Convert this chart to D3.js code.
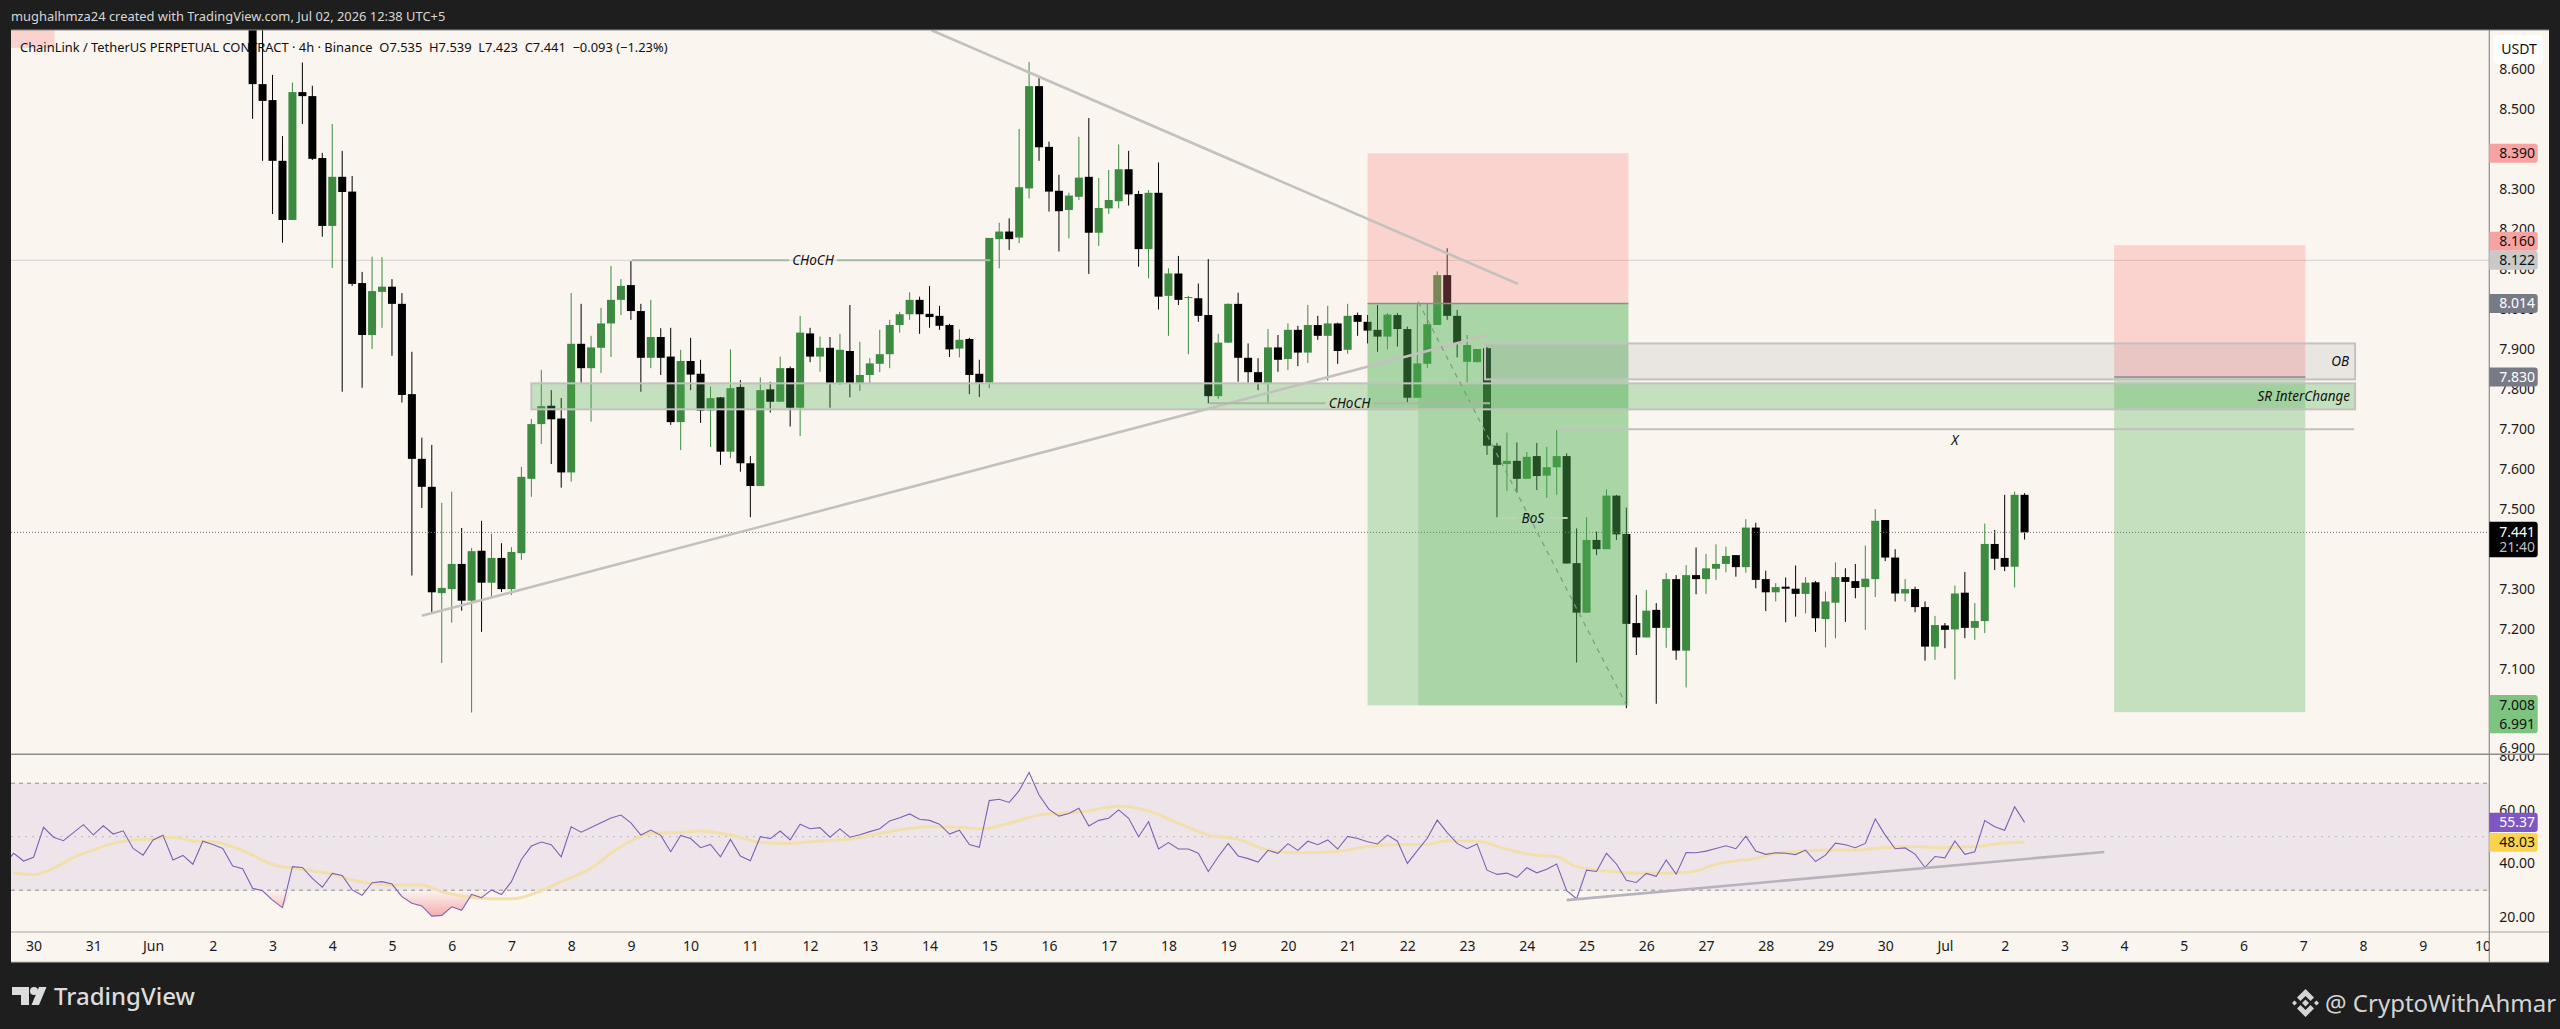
<!DOCTYPE html>
<html>
<head>
<meta charset="utf-8">
<script src="https://cdn.jsdelivr.net/npm/d3@7"></script>
<style>
    html, body { margin: 0; padding: 0; background: #1e1e1e; }
    svg { display: block; }
    text { font-family: "Noto Sans", sans-serif; }
</style>
</head>
<body>
<div id="chart"></div>
<script>
// 4h candles, first one is Jun 2 16:00, 6 bars per day
const opens = [8.824,8.563,8.523,8.371,8.223,8.543,8.533,8.378,8.208,8.331,
    8.294,8.065,7.935,8.043,8.056,8.013,7.787,7.625,7.555,7.289,
    7.299,7.362,7.270,7.395,7.315,7.377,7.299,7.389,7.575,7.712,
    7.758,7.726,7.591,7.913,7.852,7.903,7.964,8.023,8.060,7.995,
    7.878,7.930,7.881,7.717,7.870,7.838,7.746,7.779,7.643,7.805,
    7.614,7.557,7.799,7.768,7.852,7.753,7.939,7.881,7.903,7.814,
    7.895,7.814,7.835,7.863,7.887,7.960,7.987,8.023,7.988,7.983,
    7.960,7.901,7.925,7.838,7.816,8.175,8.194,8.179,8.302,8.558,
    8.406,8.296,8.248,8.281,8.331,8.191,8.252,8.270,8.350,8.288,
    8.150,8.291,8.033,8.089,8.028,8.027,7.985,7.782,7.916,8.013,
    7.878,7.842,7.815,7.904,7.875,7.948,7.891,7.960,7.933,7.964,
    7.898,7.985,7.968,7.948,7.931,7.985,7.950,7.778,7.863,7.960,
    8.085,7.983,7.868,7.867,7.902,7.658,7.612,7.620,7.575,7.632,
    7.583,7.604,7.632,7.364,7.240,7.422,7.399,7.533,7.437,7.214,
    7.178,7.247,7.202,7.324,7.145,7.334,7.324,7.350,7.362,7.384,
    7.354,7.453,7.324,7.291,7.305,7.300,7.287,7.316,7.224,7.265,
    7.329,7.319,7.304,7.324,7.472,7.378,7.288,7.299,7.254,7.155,
    7.208,7.198,7.290,7.202,7.219,7.412,7.377,7.355,7.535];
const highs = [8.87,8.724,8.586,8.433,8.567,8.617,8.559,8.391,8.463,8.396,
    8.333,8.093,8.131,8.130,8.075,8.040,7.893,7.678,7.660,7.515,
    7.543,7.452,7.402,7.470,7.437,7.414,7.404,7.605,7.725,7.848,
    7.797,7.777,8.040,8.013,7.933,8.003,8.108,8.075,8.120,8.013,
    8.023,7.952,7.953,7.898,7.928,7.873,7.806,7.780,7.899,7.822,
    7.632,7.829,7.818,7.881,7.856,7.983,7.953,7.931,7.930,7.938,
    8.010,7.918,7.877,7.948,7.973,7.993,8.042,8.031,8.058,8.008,
    7.963,7.949,7.928,7.873,8.178,8.216,8.227,8.451,8.618,8.578,
    8.419,8.336,8.291,8.431,8.478,8.328,8.348,8.412,8.396,8.296,
    8.298,8.367,8.102,8.133,8.033,8.064,8.125,7.938,8.014,8.041,
    7.914,7.877,7.950,7.935,7.964,7.958,8.010,7.983,8.008,7.966,
    8.013,7.991,7.985,8.010,7.990,7.990,7.956,8.014,8.013,8.094,
    8.152,7.998,7.935,7.900,7.905,7.665,7.691,7.666,7.642,7.665,
    7.655,7.697,7.639,7.451,7.479,7.443,7.549,7.535,7.503,7.284,
    7.297,7.264,7.339,7.334,7.359,7.403,7.387,7.411,7.405,7.384,
    7.474,7.465,7.345,7.314,7.328,7.358,7.329,7.319,7.293,7.366,
    7.351,7.362,7.408,7.499,7.472,7.399,7.324,7.305,7.268,7.232,
    7.214,7.308,7.342,7.264,7.463,7.447,7.535,7.543,7.539];
const lows = [8.476,8.371,8.238,8.166,8.223,8.463,8.373,8.181,8.103,7.793,
    8.058,7.803,7.900,7.953,7.883,7.766,7.333,7.502,7.242,7.114,
    7.215,7.245,6.990,7.192,7.280,7.292,7.284,7.372,7.530,7.662,
    7.612,7.553,7.568,7.816,7.718,7.840,7.880,7.985,7.973,7.793,
    7.852,7.835,7.710,7.647,7.797,7.715,7.655,7.610,7.627,7.593,
    7.479,7.557,7.741,7.768,7.706,7.682,7.867,7.843,7.753,7.810,
    7.779,7.795,7.814,7.842,7.852,7.941,7.973,7.938,7.953,7.948,
    7.880,7.879,7.787,7.780,7.802,8.102,8.148,8.165,8.277,8.371,
    8.244,8.144,8.177,8.273,8.088,8.158,8.238,8.252,8.259,8.106,
    8.077,7.999,7.933,8.010,7.887,7.968,7.764,7.775,7.915,7.818,
    7.816,7.797,7.766,7.843,7.847,7.857,7.865,7.923,7.821,7.863,
    7.888,7.933,7.914,7.893,7.899,7.906,7.766,7.778,7.853,7.960,
    7.973,7.879,7.814,7.867,7.635,7.479,7.545,7.541,7.575,7.547,
    7.527,7.535,7.363,7.115,7.240,7.384,7.399,7.422,7.001,7.134,
    7.178,7.012,7.152,7.122,7.053,7.286,7.287,7.322,7.341,7.330,
    7.340,7.301,7.244,7.268,7.216,7.230,7.238,7.192,7.153,7.176,
    7.217,7.276,7.197,7.279,7.369,7.268,7.268,7.241,7.120,7.122,
    7.151,7.073,7.176,7.172,7.189,7.347,7.344,7.303,7.423];
const closes = [8.563,8.521,8.371,8.223,8.543,8.533,8.376,8.208,8.331,8.293,
    8.063,7.935,8.045,8.056,8.013,7.785,7.625,7.555,7.291,7.302,
    7.362,7.270,7.394,7.315,7.377,7.299,7.392,7.580,7.712,7.757,
    7.724,7.591,7.913,7.852,7.904,7.964,8.023,8.058,7.995,7.878,
    7.930,7.878,7.717,7.870,7.836,7.746,7.777,7.643,7.802,7.614,
    7.557,7.797,7.768,7.852,7.753,7.941,7.881,7.903,7.814,7.898,
    7.814,7.835,7.864,7.887,7.960,7.987,8.023,7.987,7.980,7.958,
    7.899,7.923,7.835,7.816,8.178,8.194,8.175,8.305,8.558,8.405,
    8.294,8.245,8.284,8.329,8.191,8.253,8.273,8.350,8.287,8.150,
    8.291,8.031,8.089,8.023,8.030,7.983,7.782,7.916,8.013,7.878,
    7.842,7.816,7.904,7.873,7.948,7.891,7.960,7.933,7.964,7.895,
    7.983,7.968,7.946,7.931,7.986,7.950,7.778,7.864,7.962,8.085,
    7.983,7.914,7.910,7.900,7.658,7.610,7.620,7.575,7.630,7.582,
    7.604,7.632,7.363,7.240,7.422,7.399,7.533,7.436,7.212,7.178,
    7.245,7.202,7.324,7.145,7.334,7.324,7.351,7.362,7.382,7.354,
    7.453,7.322,7.291,7.304,7.300,7.287,7.315,7.226,7.268,7.329,
    7.317,7.302,7.325,7.470,7.378,7.288,7.299,7.254,7.155,7.209,
    7.197,7.288,7.202,7.219,7.412,7.375,7.355,7.535,7.441];

// RSI starts 25 bars before the first candle
const rsiFirstBar = -25;
const rsiValues = [39.4,43.8,40.9,42.3,53.5,49.8,48.5,51.5,54.5,50.7,54.1,51.0,52.2,45.6,43.1,48.8,50.5,41.3,43.0,39.7,
    48.3,47.1,45.6,39.0,38.0,30.7,29.8,26.3,23.5,38.8,38.5,34.4,31.1,36.3,35.5,30.1,28.1,32.8,33.2,32.3,
    27.6,25.1,24.1,20.3,20.6,23.8,22.5,28.4,27.2,30.1,28.4,33.2,41.5,46.5,48.0,47.0,42.5,53.7,51.7,53.4,
    55.2,57.0,58.1,55.2,50.6,52.5,50.5,44.4,50.5,49.3,45.9,47.1,42.5,49.0,42.8,41.0,50.0,49.3,52.1,48.8,
    54.7,53.0,53.4,49.8,52.9,49.8,50.7,51.9,53.0,55.9,57.1,58.5,56.5,56.1,54.7,51.0,52.4,47.1,46.0,63.5,
    64.0,62.8,67.2,74.0,65.6,60.2,57.7,58.7,60.6,54.0,56.1,56.9,60.0,56.9,50.0,55.6,45.4,47.8,45.4,45.4,
    43.8,37.0,42.5,47.5,42.8,41.8,40.5,44.9,43.8,47.4,44.9,48.3,47.0,48.8,45.4,50.1,49.3,48.1,47.3,50.6,
    48.3,40.0,44.8,49.4,56.2,51.5,47.5,45.5,47.3,37.5,35.9,36.4,34.8,38.4,36.5,37.8,39.8,29.8,26.8,37.5,
    37.0,43.8,39.8,33.7,32.9,36.3,35.2,41.3,36.0,44.1,44.0,44.6,45.6,46.6,45.5,50.2,44.6,43.4,44.0,43.8,
    43.3,45.0,40.7,43.1,47.6,47.0,45.9,47.5,56.6,50.6,45.5,45.8,43.5,38.5,42.6,42.1,48.4,43.4,44.4,56.0,
    53.7,52.4,61.2,55.37];

const maBars = [-24,-22,-20,-18,-16,-14,-12,-10,-8,-6,-4,-2,0,2,5,8,10,12,14,17,19,21,24,26,29,31,34,36,38,40,43,45,48,51,54,57,60,
    63,66,68,71,73,76,79,81,84,87,90,93,96,99,102,105,109,112,115,118,120,123,126,129,131,133,136,139,143,145,
    147,149,151,153,155,158,161,164,167,170,173,175,178];
const maValues = [36.5,35.8,38.2,42.3,45.0,47.5,48.8,49.1,49.8,48.4,48.1,46.3,43.1,39.6,37.8,36.0,33.8,32.5,31.9,31.9,29.4,27.8,26.8,26.8,29.8,33.2,38.2,43.8,48.4,51.2,51.6,52.1,50.6,47.9,47.5,48.4,49.1,
    51.2,53.1,53.7,53.5,52.9,55.0,58.1,58.7,59.7,61.5,59.6,55.0,50.6,49.0,45.0,44.0,44.5,46.3,47.1,47.1,48.5,48.3,45.3,43.0,42.5,38.8,37.2,36.3,36.4,37.2,
    39.7,40.9,41.9,43.8,44.4,45.0,45.0,46.0,46.3,45.9,46.3,47.3,48.03];

const dayLabels = ["30","31","Jun","2","3","4","5","6","7","8","9","10","11","12","13","14","15","16","17","18","19","20",
    "21","22","23","24","25","26","27","28","29","30","Jul","2","3","4","5","6","7","8","9","10"];
const firstDayBar = -22;
const priceTicks = [8.6,8.5,8.4,8.3,8.2,8.1,8.0,7.9,7.8,7.7,7.6,7.5,7.4,7.3,7.2,7.1,6.9];
const rsiTicks = [80,60,40,20];

// drawings, given as [bar, price]
const lastPrice = 7.441, highLine = 8.122;
const trendDown = [[68.2,8.698],[127.1,8.063]];
const trendUp = [[17,7.232],[124.1,7.935]];
const rsiTrend = [[132,26.3],[186,44.3]];
const fallLine = [[117.1,8.018],[138,7.009]];
const labelledLines = [
    {name:"CHoCH", from:38.1, to:74.1, at:56.3, price:8.122},
    {name:"CHoCH", from:96.1, to:124.3, at:110.2, price:7.764},
    {name:"BoS", from:125.1, to:132.1, at:128.6, price:7.477}
];
const xLine = {from:131, to:211.1, price:7.699, at:171, textPrice:7.672};
const srZone = {from:28, to:211.2, top:7.814, bottom:7.749};
const obZone = {from:123.8, to:211.2, top:7.914, bottom:7.824};
const trade1 = {from:112, split:117.1, to:138.2, stop:8.39, entry:8.014, inner:7.814, target:7.008};
const trade2 = {from:187, to:206.2, stop:8.16, entry:7.83, target:6.991};
const oldStop = {from:-24.3, to:-19.9, top:8.75, bottom:8.654};

const width = 2560, height = 1029;
const paneL = 11, paneR = 2549, axisX = 2489.3, paneT = 30, paneB = 962, priceB = 754.3, rsiB = 932;
const green = "#3d8b40", black = "#000";

const svg = d3.select("#chart").append("svg").attr("width", width).attr("height", height);
const defs = svg.append("defs");
defs.append("clipPath").attr("id", "priceClip").append("rect")
    .attr("x", paneL).attr("y", paneT).attr("width", axisX - paneL).attr("height", priceB - paneT);
defs.append("clipPath").attr("id", "rsiClip").append("rect")
    .attr("x", paneL).attr("y", priceB).attr("width", axisX - paneL).attr("height", rsiB - priceB);
defs.append("clipPath").attr("id", "rsiAxisClip").append("rect")
    .attr("x", axisX).attr("y", priceB + 0.5).attr("width", paneR - axisX).attr("height", rsiB - priceB);
defs.append("clipPath").attr("id", "timeClip").append("rect")
    .attr("x", paneL).attr("y", rsiB).attr("width", axisX - paneL).attr("height", paneB - rsiB);
const oversold = defs.append("linearGradient").attr("id", "oversold").attr("x1", 0).attr("x2", 0).attr("y1", 0).attr("y2", 1)
    .attr("gradientUnits", "objectBoundingBox");
oversold.append("stop").attr("offset", 0).attr("stop-color", "#f23645").attr("stop-opacity", 0);
oversold.append("stop").attr("offset", 1).attr("stop-color", "#f23645").attr("stop-opacity", 0.38);

const x = d3.scaleLinear().domain([-22, 224]).range([33.6, 2482.5]);
const y = d3.scaleLinear().domain([8.5, 7.1]).range([109.3, 668.6]);
const r = d3.scaleLinear().domain([70, 30]).range([783.2, 890.2]);

// pane background
svg.append("rect").attr("x", paneL).attr("y", paneT).attr("width", paneR - paneL).attr("height", paneB - paneT).attr("fill", "#faf5ef");

svg.append("text").attr("x", 11).attr("y", 21).attr("fill", "#d6d6d6").style("font-size", "12.9px")
    .text("mughalhmza24 created with TradingView.com, Jul 02, 2026 12:38 UTC+5");

const price = svg.append("g").attr("clip-path", "url(#priceClip)");

price.append("rect").attr("x", x(oldStop.from)).attr("y", y(oldStop.top))
    .attr("width", x(oldStop.to) - x(oldStop.from)).attr("height", y(oldStop.bottom) - y(oldStop.top))
    .attr("fill", "rgba(252,130,130,.3)");

price.append("text").attr("x", 20).attr("y", 52).attr("fill", "#111").style("font-size", "12.9px").attr("xml:space", "preserve")
    .text("ChainLink / TetherUS PERPETUAL CONTRACT · 4h · Binance  O7.535  H7.539  L7.423  C7.441  −0.093 (−1.23%)");

price.append("line").attr("x1", paneL).attr("x2", axisX).attr("y1", y(highLine)).attr("y2", y(highLine))
    .attr("stroke", "#d2cfca").attr("stroke-width", 1);

// candles
const bars = d3.range(opens.length);
const barColor = i => closes[i] < opens[i] ? black : green;
price.append("g").selectAll("line").data(bars).enter().append("line")
    .attr("x1", i => x(i)).attr("x2", i => x(i))
    .attr("y1", i => y(highs[i])).attr("y2", i => y(lows[i]))
    .attr("stroke", barColor).attr("stroke-width", 1);
price.append("g").selectAll("rect").data(bars).enter().append("rect")
    .attr("x", i => x(i) - 4).attr("width", 8)
    .attr("y", i => y(Math.max(opens[i], closes[i])))
    .attr("height", i => Math.max(1, y(Math.min(opens[i], closes[i])) - y(Math.max(opens[i], closes[i]))))
    .attr("fill", barColor);

price.append("line").attr("x1", paneL).attr("x2", axisX).attr("y1", y(lastPrice)).attr("y2", y(lastPrice))
    .attr("stroke", "#6e6e6e").attr("stroke-width", 1).attr("stroke-dasharray", "1 2");

const box = (g, x0, x1, top, bottom, fill) => g.append("rect")
    .attr("x", x(x0)).attr("width", x(x1) - x(x0))
    .attr("y", y(top)).attr("height", y(bottom) - y(top)).attr("fill", fill);
const redFill = "rgba(252,130,130,.3)", greenFill = "rgba(76,175,80,.3)", greenFill2 = "rgba(76,175,80,.22)";

// left trade: short red part and two overlapping green parts
box(price, trade1.from, trade1.to, trade1.stop, trade1.entry, redFill);
box(price, trade1.from, trade1.to, trade1.entry, trade1.target, greenFill);
box(price, trade1.from, trade1.split, trade1.entry, trade1.inner, greenFill2);
box(price, trade1.split, trade1.to, trade1.entry, trade1.target, greenFill2);
// right trade
box(price, trade2.from, trade2.to, trade2.stop, trade2.entry, redFill);
box(price, trade2.from, trade2.to, trade2.entry, trade2.target, greenFill);

[[trade1.from, trade1.to, trade1.entry], [trade2.from, trade2.to, trade2.entry]].forEach(d => {
    price.append("line").attr("x1", x(d[0])).attr("x2", x(d[1])).attr("y1", y(d[2])).attr("y2", y(d[2]))
        .attr("stroke", "#8b8f92").attr("stroke-width", 1.5);
});

// zones
box(price, obZone.from, obZone.to, obZone.top, obZone.bottom, "rgba(120,123,134,.13)")
    .attr("stroke", "#c4c2c0").attr("stroke-width", 2);
box(price, srZone.from, srZone.to, srZone.top, srZone.bottom, greenFill)
    .attr("stroke", "#c2c2bd").attr("stroke-width", 2);

const lineOf = d3.line().x(d => x(d[0])).y(d => y(d[1]));
const linePaths = [trendDown, trendUp];
price.append("g").selectAll("path").data(linePaths).enter().append("path")
    .attr("d", lineOf).attr("fill", "none").attr("stroke", "#c3c1be").attr("stroke-width", 2.6);
price.append("path").attr("d", lineOf(fallLine)).attr("fill", "none")
    .attr("stroke", "#7f9a80").attr("stroke-width", 1.2).attr("stroke-dasharray", "5 5");

const italicLabel = (px, py, s) => price.append("text").attr("x", px).attr("y", py).attr("dy", "0.35em")
    .attr("text-anchor", "middle").attr("fill", "#111").style("font-size", "13.5px").style("font-style", "italic").text(s);

labelledLines.forEach(d => {
    const c = x(d.at), gap = d.name === "BoS" ? 17 : 24;
    [[x(d.from), c - gap], [c + gap, x(d.to)]].forEach(s => {
        price.append("line").attr("x1", s[0]).attr("x2", s[1]).attr("y1", y(d.price)).attr("y2", y(d.price))
            .attr("stroke", d.name === "BoS" ? "#b9d3b5" : "#a9b8a4").attr("stroke-width", 2);
    });
    italicLabel(c, y(d.price), d.name);
});
price.append("line").attr("x1", x(xLine.from)).attr("x2", x(xLine.to)).attr("y1", y(xLine.price)).attr("y2", y(xLine.price))
    .attr("stroke", "#c3c1be").attr("stroke-width", 2);
italicLabel(x(xLine.at), y(xLine.textPrice), "X");
price.append("text").attr("x", x(obZone.to) - 6).attr("y", y((obZone.top + obZone.bottom) / 2)).attr("dy", "0.35em")
    .attr("text-anchor", "end").attr("fill", "#111").style("font-size", "13.5px").style("font-style", "italic").text("OB");
price.append("text").attr("x", x(srZone.to) - 5).attr("y", y((srZone.top + srZone.bottom) / 2)).attr("dy", "0.35em")
    .attr("text-anchor", "end").attr("fill", "#111").style("font-size", "13.5px").style("font-style", "italic").text("SR InterChange");

// RSI pane
const rsi = svg.append("g").attr("clip-path", "url(#rsiClip)");
rsi.append("rect").attr("x", paneL).attr("width", axisX - paneL).attr("y", r(70)).attr("height", r(30) - r(70))
    .attr("fill", "rgba(126,87,194,.1)");
[[70, "4 4", "#8f8d8e"], [50, "2 5", "#bcb8ba"], [30, "4 4", "#8f8d8e"]].forEach(d => {
    rsi.append("line").attr("x1", paneL).attr("x2", axisX).attr("y1", r(d[0])).attr("y2", r(d[0]))
        .attr("stroke", d[2]).attr("stroke-dasharray", d[1]).attr("stroke-width", 1);
});
const rsiPoints = rsiValues.map((v, k) => [rsiFirstBar + k, v]);
rsi.append("path")
    .datum(rsiPoints.filter(d => d[0] >= 0 && d[0] <= 30))
    .attr("d", d3.area().x(d => x(d[0])).y0(r(30)).y1(d => r(Math.min(d[1], 30))))
    .attr("fill", "url(#oversold)");
rsi.append("path").datum(maBars.map((b, k) => [b, maValues[k]]))
    .attr("d", d3.line().x(d => x(d[0])).y(d => r(d[1])).curve(d3.curveMonotoneX))
    .attr("fill", "none").attr("stroke", "#f2e0ac").attr("stroke-width", 3);
rsi.append("path").datum(rsiPoints)
    .attr("d", d3.line().x(d => x(d[0])).y(d => r(d[1])))
    .attr("fill", "none").attr("stroke", "#7e62b4").attr("stroke-width", 1.1);
rsi.append("path").datum(rsiTrend)
    .attr("d", d3.line().x(d => x(d[0])).y(d => r(d[1])))
    .attr("fill", "none").attr("stroke", "#b7b2bc").attr("stroke-width", 2.6);

// frame lines
const rule = (x1, y1, x2, y2, c, w) => svg.append("line").attr("x1", x1).attr("y1", y1).attr("x2", x2).attr("y2", y2)
    .attr("stroke", c).attr("stroke-width", w);
rule(paneL, paneT, paneR, paneT, "#8c8c8c", 1);
rule(paneL, priceB, paneR, priceB, "#8c8c89", 1.4);
rule(paneL, rsiB, paneR, rsiB, "#c3c1bb", 1.6);
rule(axisX, paneT, axisX, paneB, "#8c8c89", 1.2);
rule(paneL, paneB, paneR, paneB, "#bdbbb6", 1);

// axes
const styleAxis = g => {
    g.select(".domain").remove();
    g.selectAll("text").attr("fill", "#1a1a1a").style("font-size", "14px");
};
svg.append("g").attr("transform", `translate(${axisX},0)`)
    .call(d3.axisRight(y).tickValues(priceTicks).tickFormat(d3.format(".3f")).tickSize(0).tickPadding(10))
    .call(styleAxis);
svg.append("g").attr("clip-path", "url(#rsiAxisClip)").append("g").attr("transform", `translate(${axisX},0)`)
    .call(d3.axisRight(r).tickValues(rsiTicks).tickFormat(d3.format(".2f")).tickSize(0).tickPadding(10))
    .call(styleAxis);
const tickBars = dayLabels.map((_, d) => firstDayBar + 6 * d);
const timeAxis = d3.axisBottom(x).tickValues(tickBars).tickFormat(b => dayLabels[(b - firstDayBar) / 6]).tickSize(0).tickPadding(9);
svg.append("g").attr("clip-path", "url(#timeClip)").append("g").attr("transform", `translate(0,${rsiB})`)
    .call(timeAxis).call(styleAxis);

// USDT box
svg.append("rect").attr("x", 2494).attr("y", 35).attr("width", 49).attr("height", 29).attr("rx", 4).attr("fill", "#fff");
svg.append("text").attr("x", 2519).attr("y", 49).attr("dy", "0.35em").attr("text-anchor", "middle")
    .attr("fill", "#111").style("font-size", "14px").text("USDT");

// price tags on the scale
const tagW = 48.4;
const tagPath = (yTop, h) => {
    const x0 = axisX, c = 3;
    return `M${x0},${yTop}H${x0 + tagW - c}Q${x0 + tagW},${yTop} ${x0 + tagW},${yTop + c}V${yTop + h - c}Q${x0 + tagW},${yTop + h} ${x0 + tagW - c},${yTop + h}H${x0}Z`;
};
const tagValues = ["8.390", "8.160", "8.122", "8.014", "7.830"];
const tagColors = {"8.390": ["#f7a3a3", "#111"], "8.160": ["#f7a3a3", "#111"], "8.122": ["#c9c9c9", "#111"], "8.014": ["#787b86", "#fff"], "7.830": ["#787b86", "#fff"]};
const tagShift = {"8.160": -4};
const tagText = (py, s, c) => svg.append("text").attr("x", axisX + 10).attr("y", py).attr("dy", "0.35em").attr("fill", c).style("font-size", "14px").text(s);
tagValues.forEach(v => {
    const cy = y(+v) + (tagShift[v] || 0);
    svg.append("path").attr("d", tagPath(cy - 9.5, 19)).attr("fill", tagColors[v][0]);
    tagText(cy, v, tagColors[v][1]);
});
svg.append("path").attr("d", tagPath(521.7, 35.6)).attr("fill", "#000");
tagText(y(lastPrice) - 0.5, "7.441", "#fff");
tagText(547.3, "21:40", "#bdbdbd");
svg.append("path").attr("d", tagPath(695, 38.3)).attr("fill", "#7cc47f");
tagText(705, "7.008", "#111");
tagText(723.7, "6.991", "#111");
svg.append("path").attr("d", tagPath(812.7, 19.3)).attr("fill", "#7e57c2");
tagText(822.3, "55.37", "#fff");
svg.append("path").attr("d", tagPath(833, 18.7)).attr("fill", "#fbd34f");
tagText(842.3, "48.03", "#111");

// footer
const logo = svg.append("g").attr("fill", "#dcdcdc");
logo.append("path").attr("d", "M12,987H29V1005H21V995H12Z");
logo.append("circle").attr("cx", 34).attr("cy", 991).attr("r", 4);
logo.append("path").attr("d", "M39,987H46.5L39,1005H31.5Z");
svg.append("text").attr("x", 54).attr("y", 1005).attr("fill", "#dcdcdc").style("font-size", "24px").style("font-weight", 500).text("TradingView");
const mark = svg.append("g").attr("fill", "#d4d4d4");
mark.append("path").attr("d", "M2305.5,989L2314,997.5L2310.5,1001L2305.5,996L2300.5,1001L2297,997.5Z");
mark.append("path").attr("d", "M2305.5,1017L2314,1008.5L2310.5,1005L2305.5,1010L2300.5,1005L2297,1008.5Z");
[[2305.5, 1003, 3.5], [2294.5, 1003, 2.5], [2316.5, 1003, 2.5]].forEach(d => {
    const [cx, cy, s] = d;
    mark.append("path").attr("d", `M${cx},${cy - s}L${cx + s},${cy}L${cx},${cy + s}L${cx - s},${cy}Z`);
});
svg.append("text").attr("x", 2325).attr("y", 1012).attr("fill", "#d4d4d4").style("font-size", "24px").text("@ CryptoWithAhmar");
</script>
</body>
</html>
